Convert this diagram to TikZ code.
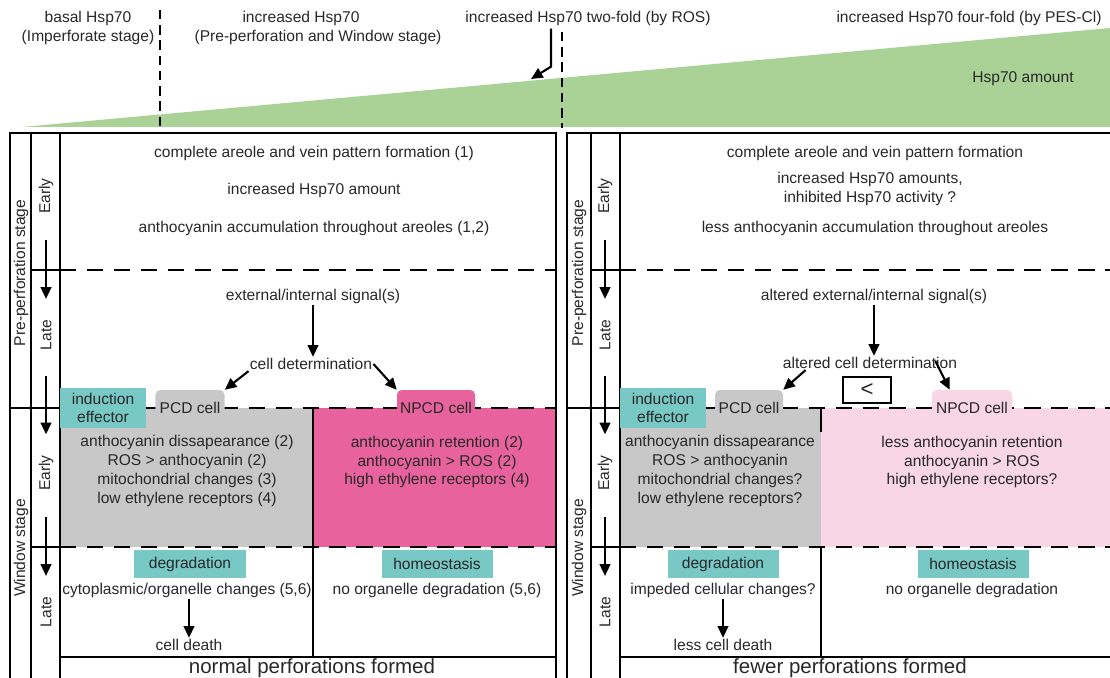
\documentclass[tikz,border=0pt]{standalone}
\usepackage{fontspec}
\setmainfont{Liberation Sans}
\usetikzlibrary{arrows.meta,calc}
\definecolor{hspgreen}{RGB}{171,210,150}
\definecolor{tealbox}{RGB}{120,200,198}
\definecolor{pcdgrey}{RGB}{200,200,200}
\definecolor{npcdpink}{RGB}{232,98,158}
\definecolor{npcdlight}{RGB}{248,214,230}
\definecolor{inktext}{RGB}{40,40,40}
\tikzset{
  frame/.style={line width=1.6pt, black},
  phasedash/.style={line width=2pt, black, dash pattern=on 14pt off 9pt},
  topdash/.style={line width=2.2pt, black, dash pattern=on 8pt off 5pt},
  arr/.style={line width=1.8pt, black, -{Triangle[length=10pt,width=9pt]}},
  txt/.style={font=\fontsize{13.3}{16}\selectfont, text=inktext, align=center, inner sep=1pt},
  side/.style={txt, rotate=90, inner sep=0pt},
  phasearr/.style={arr, shorten <=0.78cm, shorten >=0.62cm},
  tealtag/.style={txt, fill=tealbox, minimum width=3.33cm, minimum height=0.84cm},
  celltab/.style={txt, rounded corners=4pt, minimum height=1.08cm, inner xsep=0pt},
  outcome/.style={font=\fontsize{17.5}{20}\selectfont, text=inktext, inner sep=1pt},
}

\begin{document}
\begin{tikzpicture}[x=0.03cm,y=-0.03cm]
\useasboundingbox (0,0) rectangle (1110,678);
% Hsp70 gradient and top labels
\fill[hspgreen] (22,127) -- (1110,28) -- (1110,127) -- cycle;
\node[txt] (amount) at (1023,79) {Hsp70 amount};
\node[txt] (basal) at (88,28) {basal Hsp70\\(Imperforate stage)};
\node[txt] (incr) at (301,18) {increased Hsp70};
\node[txt] (incrnote) at (318,37) {(Pre-perforation and Window stage)};
\node[txt] (ros) at (588,18) {increased Hsp70 two-fold (by ROS)};
\node[txt] (pes) at (969,18) {increased Hsp70 four-fold (by PES-Cl)};
\coordinate (rostip) at (531,79);
\draw[topdash] (160,10) -- (160,128);
\draw[topdash] (562,32) -- (562,128);
\draw[arr] ($(ros.south)+(-37,2)$) -- ++(0,38) -- (rostip);

% left panel
\fill[pcdgrey] (60,408) rectangle (313,547);
\fill[npcdpink] (313,408) rectangle (556,547);
\draw[frame] (10,133) rectangle (556,690);
\draw[frame] (31,133) -- (31,690);
\draw[frame] (60,133) -- (60,690);
\draw[frame] (31,270) -- (60,270);
\draw[frame] (10,408) -- (60,408);
\draw[frame] (31,547) -- (60,547);
\draw[frame] (60,657) -- (556,657);
\draw[frame] (313,408) -- (313,657);
\draw[phasedash] (60,270) -- (556,270);
\draw[phasedash] (60,408) -- (556,408);
\draw[phasedash] (60,547) -- (556,547);

\node[side] (pre1) at (21,273) {Pre-perforation stage};
\node[side] (win1) at (21,548) {Window stage};
\node[side] (e1a) at (46,196) {Early};
\node[side] (l1a) at (46,335) {Late};
\node[side] (e1b) at (46,473) {Early};
\node[side] (l1b) at (46,612) {Late};
\draw[phasearr] (e1a) -- (l1a);
\draw[phasearr] (l1a) -- (e1b);
\draw[phasearr] (e1b) -- (l1b);

\node[txt] (c1a) at (314,153) {complete areole and vein pattern formation (1)};
\node[txt] (c1b) at (314,190) {increased Hsp70 amount};
\node[txt] (c1c) at (314,228) {anthocyanin accumulation throughout areoles (1,2)};
\node[txt] (sig) at (313,296) {external/internal signal(s)};
\node[txt] (det) at (311,364) {cell determination};
\node[tealtag, minimum width=2.58cm, minimum height=1.2cm] (ind) at (103,408) {induction\\effector};
\node[celltab, fill=pcdgrey, minimum width=2.07cm] (pcd) at (190,408) {PCD cell};
\node[celltab, fill=npcdpink, minimum width=2.34cm] (npcd) at (436,408) {NPCD cell};
\node[txt] (pcdtxt) at (187,471) {anthocyanin dissapearance (2)\\ROS > anthocyanin (2)\\mitochondrial changes (3)\\low ethylene receptors (4)};
\node[txt] (npcdtxt) at (437,462) {anthocyanin retention (2)\\anthocyanin > ROS (2)\\high ethylene receptors (4)};
\node[tealtag] (deg) at (190,564) {degradation};
\node[txt] (cyto) at (187,590) {cytoplasmic/organelle changes (5,6)};
\node[txt] (death) at (189,645) {cell death};
\node[tealtag] (homeo) at (437,564) {homeostasis};
\node[txt] (noorg) at (437,590) {no organelle degradation (5,6)};
\node[outcome] (normal) at (312,668) {normal perforations formed};
\draw[arr] (sig.south) -- (sig.south |- det.north);
\draw[arr] (det.south west) -- (pcd.north east);
\draw[arr] (det.east) -- (npcd.north west);
\draw[arr] (death.north |- cyto.south) -- (death.north);

% right panel
\fill[pcdgrey] (620,408) rectangle (821,547);
\fill[npcdlight] (821,408) rectangle (1115,547);
\draw[frame] (567,690) -- (567,133) -- (1115,133);
\draw[frame] (591,133) -- (591,690);
\draw[frame] (620,133) -- (620,690);
\draw[frame] (591,270) -- (620,270);
\draw[frame] (567,408) -- (620,408);
\draw[frame] (591,547) -- (620,547);
\draw[frame] (620,657) -- (1115,657);
\draw[frame] (821,547) -- (821,657);
\draw[frame] (821,408) -- (821,432);
\draw[phasedash] (620,270) -- (1115,270);
\draw[phasedash] (620,408) -- (1115,408);
\draw[phasedash] (620,547) -- (1115,547);

\node[side] (pre2) at (579,273) {Pre-perforation stage};
\node[side] (win2) at (579,548) {Window stage};
\node[side] (e2a) at (605,196) {Early};
\node[side] (l2a) at (605,335) {Late};
\node[side] (e2b) at (605,473) {Early};
\node[side] (l2b) at (605,612) {Late};
\draw[phasearr] (e2a) -- (l2a);
\draw[phasearr] (l2a) -- (e2b);
\draw[phasearr] (e2b) -- (l2b);

\node[txt] (c2a) at (875,153) {complete areole and vein pattern formation};
\node[txt] (c2b) at (870,189) {increased Hsp70 amounts,\\inhibited Hsp70 activity ?};
\node[txt] (c2c) at (875,228) {less anthocyanin accumulation throughout areoles};
\node[txt] (sig2) at (874,296) {altered external/internal signal(s)};
\node[txt] (det2) at (870,363) {altered cell determination};
\node[draw, line width=1.6pt, minimum width=1.44cm, minimum height=0.78cm, inner sep=0pt,
  font=\fontsize{19}{19}\selectfont, text=inktext] (lt) at (867,390) {<};
\node[tealtag, minimum width=2.58cm, minimum height=1.2cm] (ind2) at (663,408) {induction\\effector};
\node[celltab, fill=pcdgrey, minimum width=2.04cm] (pcd2) at (749,408) {PCD cell};
\node[celltab, fill=npcdlight, minimum width=2.4cm] (npcd2) at (972,408) {NPCD cell};
\node[txt] (pcdtxt2) at (720,471) {anthocyanin dissapearance\\ROS > anthocyanin\\mitochondrial changes?\\low ethylene receptors?};
\node[txt] (npcdtxt2) at (972,462) {less anthocyanin retention\\anthocyanin > ROS\\high ethylene receptors?};
\node[tealtag] (deg2) at (723,564) {degradation};
\node[txt] (imped) at (723,590) {impeded cellular changes?};
\node[txt] (death2) at (723,645) {less cell death};
\node[tealtag] (homeo2) at (973,564) {homeostasis};
\node[txt] (noorg2) at (972,590) {no organelle degradation};
\node[outcome] (fewer) at (850,668) {fewer perforations formed};
\draw[arr] (sig2.south) -- (sig2.south |- det2.north);
\draw[arr] ($(det2.south west)+(24,0)$) -- (pcd2.north east);
\draw[arr] ($(det2.south east)+(-23,-9)$) -- ($(npcd2.north west)+(18,0)$);
\draw[arr] (death2.north |- imped.south) -- (death2.north);
\end{tikzpicture}
\end{document}
